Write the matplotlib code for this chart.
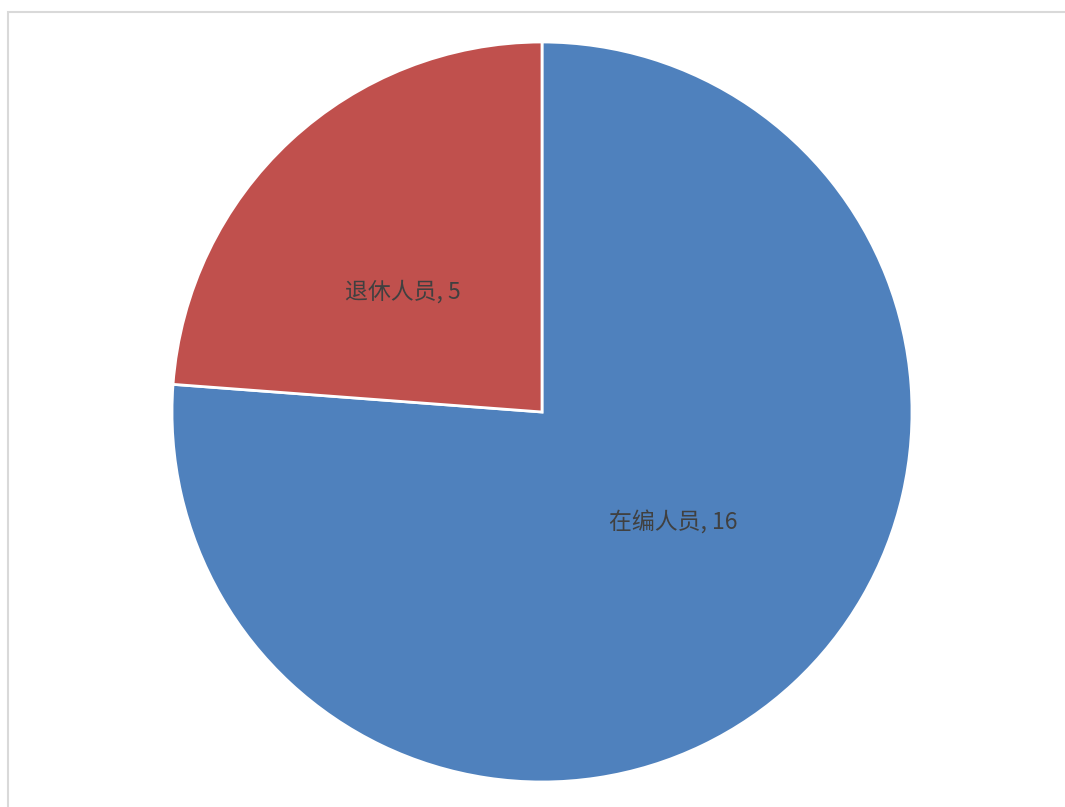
import matplotlib
matplotlib.use('Agg')
import matplotlib.pyplot as plt
from matplotlib.patches import Rectangle

plt.rcParams['font.family'] = ['Noto Sans CJK SC', 'DejaVu Sans']

# Data
categories = ['在编人员', '退休人员']
values = [16, 5]
colors = ['#4F81BD', '#C0504D']

labels = ['%s, %d' % (c, v) for c, v in zip(categories, values)]

fig = plt.figure(figsize=(10.65, 8.07), dpi=100)
fig.patch.set_facecolor('white')

# light chart-area border
fig.patches.append(Rectangle((8 / 1065, -0.01), 1.1, 1 - 12 / 807 + 0.01,
                             transform=fig.transFigure, fill=False,
                             edgecolor='#D9D9D9', linewidth=1.5))

ax = fig.add_axes([172 / 1065, 25 / 807, 740 / 1065, 740 / 807])
wedges, texts = ax.pie(values, labels=labels, colors=colors, startangle=90,
                       counterclock=False, labeldistance=0.47,
                       wedgeprops=dict(edgecolor='white', linewidth=2),
                       textprops=dict(color='#404040', fontsize=16.5))
# nudge labels to where the original chart puts them
label_pos = [(0.354, -0.300), (-0.376, 0.325)]
for t, p in zip(texts, label_pos):
    t.set_position(p)
    t.set_horizontalalignment('center')
    t.set_verticalalignment('center')
ax.set_xlim(-1, 1)
ax.set_ylim(-1, 1)
ax.set_aspect('equal')

fig.savefig('out.png', dpi=100)
